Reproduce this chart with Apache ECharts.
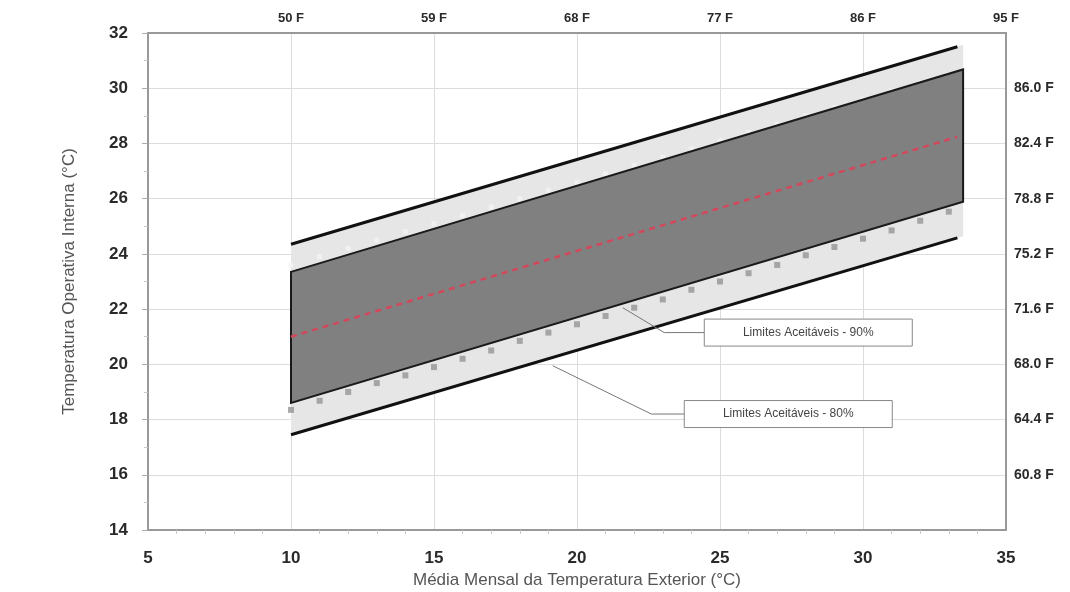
<!DOCTYPE html>
<html>
<head>
<meta charset="utf-8">
<script src="https://cdn.jsdelivr.net/npm/echarts@6/dist/echarts.min.js"></script>
<style>
html,body{margin:0;padding:0;background:#fff;}
#c{width:1070px;height:592px;}
</style>
</head>
<body>
<div id="c"></div>
<script>
// ---- data ----
var xTicks = [5, 10, 15, 20, 25, 30, 35];
var yTicks = [14, 16, 18, 20, 22, 24, 26, 28, 30, 32];
var topLabels = ['', '50 F', '59 F', '68 F', '77 F', '86 F', '95 F'];
var rightLabels = ['', '60.8 F', '64.4 F', '68.0 F', '71.6 F', '75.2 F', '78.8 F', '82.4 F', '86.0 F', ''];

// 80% acceptability band (light)
var band80X = [10, 33.5];
var band80Upper = [24.35, 31.57];
var band80Lower = [17.45, 24.64];
// 80% limit lines (black)
var line80X = [10, 33.3];
var line80Upper = [24.35, 31.5];
var line80Lower = [17.45, 24.58];
// 90% acceptability band (dark)
var band90X = [10, 33.5];
var band90Upper = [23.35, 30.68];
var band90Lower = [18.6, 25.89];
// comfort temperature (red dashed)
var comfortX = [10, 33.3];
var comfortY = [21.0, 28.24];
// grey square markers below the 90% band
var markX = [10, 11, 12, 13, 14, 15, 16, 17, 18, 19, 20, 21, 22, 23, 24, 25, 26, 27, 28, 29, 30, 31, 32, 33];
var markLower = [18.35, 18.68, 19.0, 19.32, 19.6, 19.9, 20.2, 20.5, 20.85, 21.15, 21.45, 21.75, 22.05, 22.35, 22.7, 23.0, 23.3, 23.6, 23.95, 24.25, 24.55, 24.85, 25.2, 25.53];
var markUpper = [23.6, 23.9, 24.2, 24.5, 24.8, 25.1, 25.4, 25.7, 26.0, 26.3, 26.6, 26.9, 27.2, 27.5, 27.8, 28.1, 28.4, 28.7, 29.0, 29.3, 29.6, 29.9, 30.2, 30.5];

// callout annotations: [anchorX, anchorY, elbowX, elbowY, boxLeftX, text]
var callout90 = [21.6, 22.05, 23.05, 21.15, 24.45, 'Limites Aceitáveis - 90%'];
var callout80 = [19.15, 19.95, 22.6, 18.2, 23.75, 'Limites Aceitáveis - 80%'];

function pairs(xs, ys) { return xs.map(function (x, i) { return [x, ys[i]]; }); }

function polySeries(xs, up, lo, fill, stroke, lw, z) {
  return {
    type: 'custom',
    z: z,
    silent: true,
    data: xs.map(function (x, i) { return [x, up[i], lo[i]]; }),
    encode: { x: 0, y: [1, 2] },
    renderItem: function (params, api) {
      if (params.dataIndex !== 0) return null;
      var pts = [];
      for (var i = 0; i < xs.length; i++) pts.push(api.coord([xs[i], up[i]]));
      for (var j = xs.length - 1; j >= 0; j--) pts.push(api.coord([xs[j], lo[j]]));
      return {
        type: 'polygon',
        shape: { points: pts },
        style: { fill: fill, stroke: stroke, lineWidth: lw, lineJoin: 'miter' }
      };
    }
  };
}

var chart = echarts.init(document.getElementById('c'), null, { renderer: 'canvas' });
var tickFont = 'Liberation Sans, Arial, sans-serif';

var option = {
  backgroundColor: '#ffffff',
  animation: false,
  grid: { left: 148, right: 64, top: 33, bottom: 62, containLabel: false, outerBoundsMode: 'none' },
  xAxis: [{
    type: 'value', min: 5, max: 35, interval: 5,
    name: 'Média Mensal da Temperatura Exterior (°C)',
    nameLocation: 'middle', nameGap: 42, nameMoveOverlap: false,
    nameTextStyle: { fontFamily: tickFont, fontSize: 17, color: '#555' },
    axisLine: { show: true, lineStyle: { color: '#999', width: 2 } },
    axisTick: { show: false },
    minorTick: { show: true, splitNumber: 5, length: 4, lineStyle: { color: '#c8c8c8' } },
    axisLabel: { margin: 20, fontFamily: tickFont, fontWeight: 'bold', fontSize: 17, color: '#2a2a2a' },
    splitLine: { show: true, lineStyle: { color: '#dcdcdc', width: 1 } }
  }, {
    type: 'value', min: 5, max: 35, interval: 5, position: 'top',
    axisLine: { show: true, lineStyle: { color: '#999', width: 2 } },
    axisTick: { show: false },
    axisLabel: {
      margin: 8, fontFamily: tickFont, fontWeight: 'bold', fontSize: 13, color: '#2a2a2a',
      formatter: function (v) { return topLabels[xTicks.indexOf(v)] || ''; }
    },
    splitLine: { show: false }
  }],
  yAxis: [{
    type: 'value', min: 14, max: 32, interval: 2,
    name: 'Temperatura Operativa Interna (°C)',
    nameLocation: 'middle', nameGap: 70, nameMoveOverlap: false,
    nameTextStyle: { fontFamily: tickFont, fontSize: 17, color: '#555' },
    axisLine: { show: true, lineStyle: { color: '#999', width: 2 } },
    axisTick: { show: true, length: 6, lineStyle: { color: '#aaa' } },
    minorTick: { show: true, splitNumber: 2, length: 4, lineStyle: { color: '#c8c8c8' } },
    axisLabel: { margin: 20, fontFamily: tickFont, fontWeight: 'bold', fontSize: 17, color: '#2a2a2a' },
    splitLine: { show: true, lineStyle: { color: '#dcdcdc', width: 1 } }
  }, {
    type: 'value', min: 14, max: 32, interval: 2, position: 'right',
    axisLine: { show: true, lineStyle: { color: '#999', width: 2 } },
    axisTick: { show: false },
    axisLabel: {
      margin: 8, fontFamily: tickFont, fontWeight: 'bold', fontSize: 14, color: '#2a2a2a',
      formatter: function (v) { return rightLabels[yTicks.indexOf(v)] || ''; }
    },
    splitLine: { show: false }
  }],
  series: [
    polySeries(band80X, band80Upper, band80Lower, '#e6e6e6', null, 0, 1),
    {
      type: 'line', z: 2, data: pairs(line80X, line80Upper), symbol: 'none', silent: true,
      lineStyle: { color: '#111', width: 3 }
    },
    {
      type: 'line', z: 2, data: pairs(line80X, line80Lower), symbol: 'none', silent: true,
      lineStyle: { color: '#111', width: 3 }
    },
    {
      type: 'scatter', z: 3, data: pairs(markX, markUpper), symbol: 'rect', symbolSize: 5, silent: true,
      itemStyle: { color: '#f4f4f4' }
    },
    polySeries(band90X, band90Upper, band90Lower, '#808080', '#1a1a1a', 2, 4),
    {
      type: 'scatter', z: 5, data: pairs(markX, markLower), symbol: 'rect', symbolSize: 6, silent: true,
      itemStyle: { color: '#959595' }
    },
    {
      type: 'line', z: 6, data: pairs(comfortX, comfortY), symbol: 'none', silent: true,
      lineStyle: { color: '#d4475b', width: 2.5, type: [6, 5] }
    }
  ]
};
chart.setOption(option);

function addCallouts() {
  var els = [];
  [callout90, callout80].forEach(function (c) {
    var a = chart.convertToPixel({ xAxisIndex: 0, yAxisIndex: 0 }, [c[0], c[1]]);
    var e = chart.convertToPixel({ xAxisIndex: 0, yAxisIndex: 0 }, [c[2], c[3]]);
    var b = chart.convertToPixel({ xAxisIndex: 0, yAxisIndex: 0 }, [c[4], c[3]]);
    var w = 208, h = 27;
    els.push({
      type: 'polyline', z: 10, silent: true,
      shape: { points: [a, e, b] },
      style: { stroke: '#777', lineWidth: 1, fill: null }
    });
    els.push({
      type: 'rect', z: 10, silent: true,
      shape: { x: b[0], y: b[1] - h / 2, width: w, height: h },
      style: { fill: '#fff', stroke: '#888', lineWidth: 1 }
    });
    els.push({
      type: 'text', z: 11, silent: true,
      style: {
        x: b[0] + w / 2, y: b[1], text: c[5], align: 'center', verticalAlign: 'middle',
        fontFamily: tickFont, fontSize: 12, fill: '#444'
      }
    });
  });
  chart.setOption({ graphic: els });
}
addCallouts();
</script>
</body>
</html>
